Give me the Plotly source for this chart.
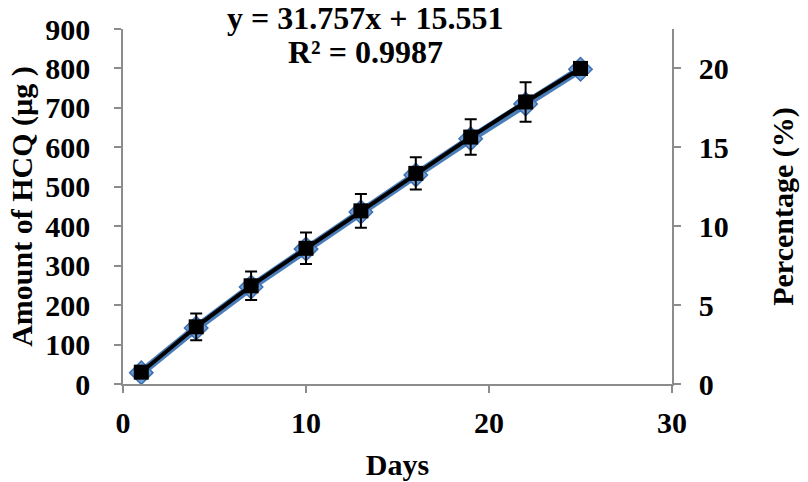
import plotly.graph_objects as go

days = [1, 4, 7, 10, 13, 16, 19, 22, 25]
amount_ug = [30, 145, 249, 344, 439, 534, 626, 715, 800]
amount_err = [6, 34, 36, 40, 43, 41, 45, 50, 5]
percentage = [0.72, 3.55, 6.15, 8.55, 10.9, 13.25, 15.55, 17.75, 19.95]

x_ticks = [0, 10, 20, 30]
left_ticks = list(range(0, 901, 100))
right_ticks = [0, 5, 10, 15, 20]

equation = "y = 31.757x + 15.551"
r2_text = "R² = 0.9987"

FONT = "Liberation Serif"
TICKFONT = dict(family=FONT, size=30, color="black", weight="bold")
TITLEFONT = dict(family=FONT, size=30, color="black", weight="bold")
AXIS_COLOR = "#8c8c8c"

fig = go.Figure()

# Blue percentage series (right axis)
fig.add_trace(go.Scatter(
    x=days, y=percentage, yaxis="y", mode="lines+markers",
    line=dict(color="#4a7ebb", width=8),
    marker=dict(symbol="diamond", size=18, color="#6f9fd8",
                line=dict(color="#3d6fae", width=1.5)),
    showlegend=False, hoverinfo="skip",
))

# Black amount series (left axis), drawn on overlay so it sits on top
fig.add_trace(go.Scatter(
    x=days, y=amount_ug, yaxis="y2", mode="lines+markers",
    line=dict(color="black", width=4),
    marker=dict(symbol="square", size=15, color="black"),
    error_y=dict(type="data", array=amount_err, visible=True,
                 color="black", thickness=2, width=6),
    showlegend=False,
))

fig.update_layout(
    width=808, height=482,
    margin=dict(l=123, r=136, t=29, b=98),
    paper_bgcolor="white", plot_bgcolor="white",
    xaxis=dict(
        range=[0, 30], tickvals=x_ticks, ticks="outside", ticklen=7,
        tickcolor=AXIS_COLOR, tickwidth=1.5,
        showline=True, linecolor=AXIS_COLOR, linewidth=1.5,
        showgrid=False, zeroline=False, tickfont=TICKFONT,
        ticklabelstandoff=4, automargin=False,
        title=dict(text="Days", font=TITLEFONT, standoff=16),
    ),
    yaxis=dict(
        side="right", range=[0, 22.5], tickvals=right_ticks,
        ticks="outside", ticklen=7, tickcolor=AXIS_COLOR, tickwidth=1.5,
        showline=True, linecolor=AXIS_COLOR, linewidth=1.5,
        showgrid=False, zeroline=False, tickfont=TICKFONT,
        ticklabelstandoff=12, automargin=False,
        title=dict(text="Percentage (%)", font=TITLEFONT, standoff=44),
    ),
    yaxis2=dict(
        side="left", overlaying="y", range=[0, 900], tickvals=left_ticks,
        ticks="outside", ticklen=7, tickcolor=AXIS_COLOR, tickwidth=1.5,
        showline=True, linecolor=AXIS_COLOR, linewidth=1.5,
        showgrid=False, zeroline=False, tickfont=TICKFONT,
        ticklabelstandoff=18, automargin=False,
        title=dict(text="Amount of HCQ (µg )", font=TITLEFONT, standoff=4),
    ),
    annotations=[
        dict(text=equation, x=365, y=18, xref="paper", yref="paper",
             showarrow=False, font=dict(family=FONT, size=32, color="black", weight="bold")),
        dict(text=r2_text, x=365, y=52, xref="paper", yref="paper",
             showarrow=False, font=dict(family=FONT, size=32, color="black", weight="bold")),
    ],
)

# convert annotation pixel positions to paper fractions
pw = 808 - 123 - 136
ph = 482 - 29 - 98
for a in fig.layout.annotations:
    px, py = a.x, a.y
    a.x = (px - 123) / pw
    a.y = 1 - (py - 29) / ph
    a.xanchor = "center"
    a.yanchor = "middle"

fig.write_html("out.html")
